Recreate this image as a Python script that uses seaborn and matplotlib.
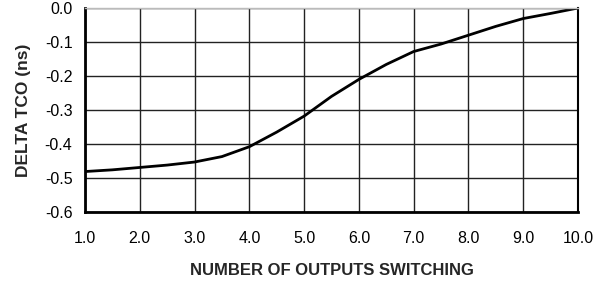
import numpy as np
import pandas as pd
import matplotlib
matplotlib.use("Agg")
import matplotlib.pyplot as plt
import seaborn as sns

# valores
n_outputs = [1.0, 1.5, 2.0, 2.5, 3.0, 3.5, 4.0, 4.5, 5.0, 5.5, 6.0, 6.5, 7.0, 7.5, 8.0, 8.5, 9.0, 9.5, 10.0]
delta_tco = [-0.481, -0.476, -0.469, -0.462, -0.453, -0.437, -0.408, -0.365, -0.318, -0.26, -0.21, -0.166, -0.128, -0.106, -0.08, -0.054, -0.031, -0.016, 0.0]
x_ticks = [1.0, 2.0, 3.0, 4.0, 5.0, 6.0, 7.0, 8.0, 9.0, 10.0]
y_ticks = [0.0, -0.1, -0.2, -0.3, -0.4, -0.5, -0.6]

df = pd.DataFrame({"n": n_outputs, "dtco": delta_tco})

sns.set_style("white")
plt.rcParams["font.family"] = ["Liberation Sans", "DejaVu Sans"]
plt.rcParams["axes.unicode_minus"] = False

fig = plt.figure(figsize=(6.1, 2.87), dpi=100)
ax = fig.add_axes([85/610, 1-212/287, (578-85)/610, (212-8)/287])

sns.lineplot(data=df, x="n", y="dtco", ax=ax, color="black", linewidth=2)

ax.set_xlim(1.0, 10.0)
ax.set_ylim(-0.6, 0.0)
ax.set_xticks(x_ticks)
ax.set_xticklabels([f"{v:.1f}" for v in x_ticks])
ax.set_yticks(y_ticks)
ax.set_yticklabels([f"{v:.1f}" if v != 0 else "0.0" for v in y_ticks])
ax.grid(True, color="#222222", linewidth=1.0)
ax.tick_params(axis="both", length=0, labelsize=11.5, colors="black")
ax.tick_params(axis="x", pad=14)
ax.tick_params(axis="y", pad=9)

for s in ["left", "bottom"]:
    ax.spines[s].set_linewidth(2)
    ax.spines[s].set_color("black")
ax.spines["right"].set_linewidth(1.5)
ax.spines["right"].set_color("black")
ax.spines["top"].set_linewidth(1)
ax.spines["top"].set_color("#bbbbbb")

ax.set_xlabel("NUMBER OF OUTPUTS SWITCHING", fontsize=12, fontweight="bold", labelpad=12)
ax.set_ylabel("DELTA TCO (ns)", fontsize=12.5, fontweight="bold", labelpad=10)

fig.savefig("out.png", dpi=100)
